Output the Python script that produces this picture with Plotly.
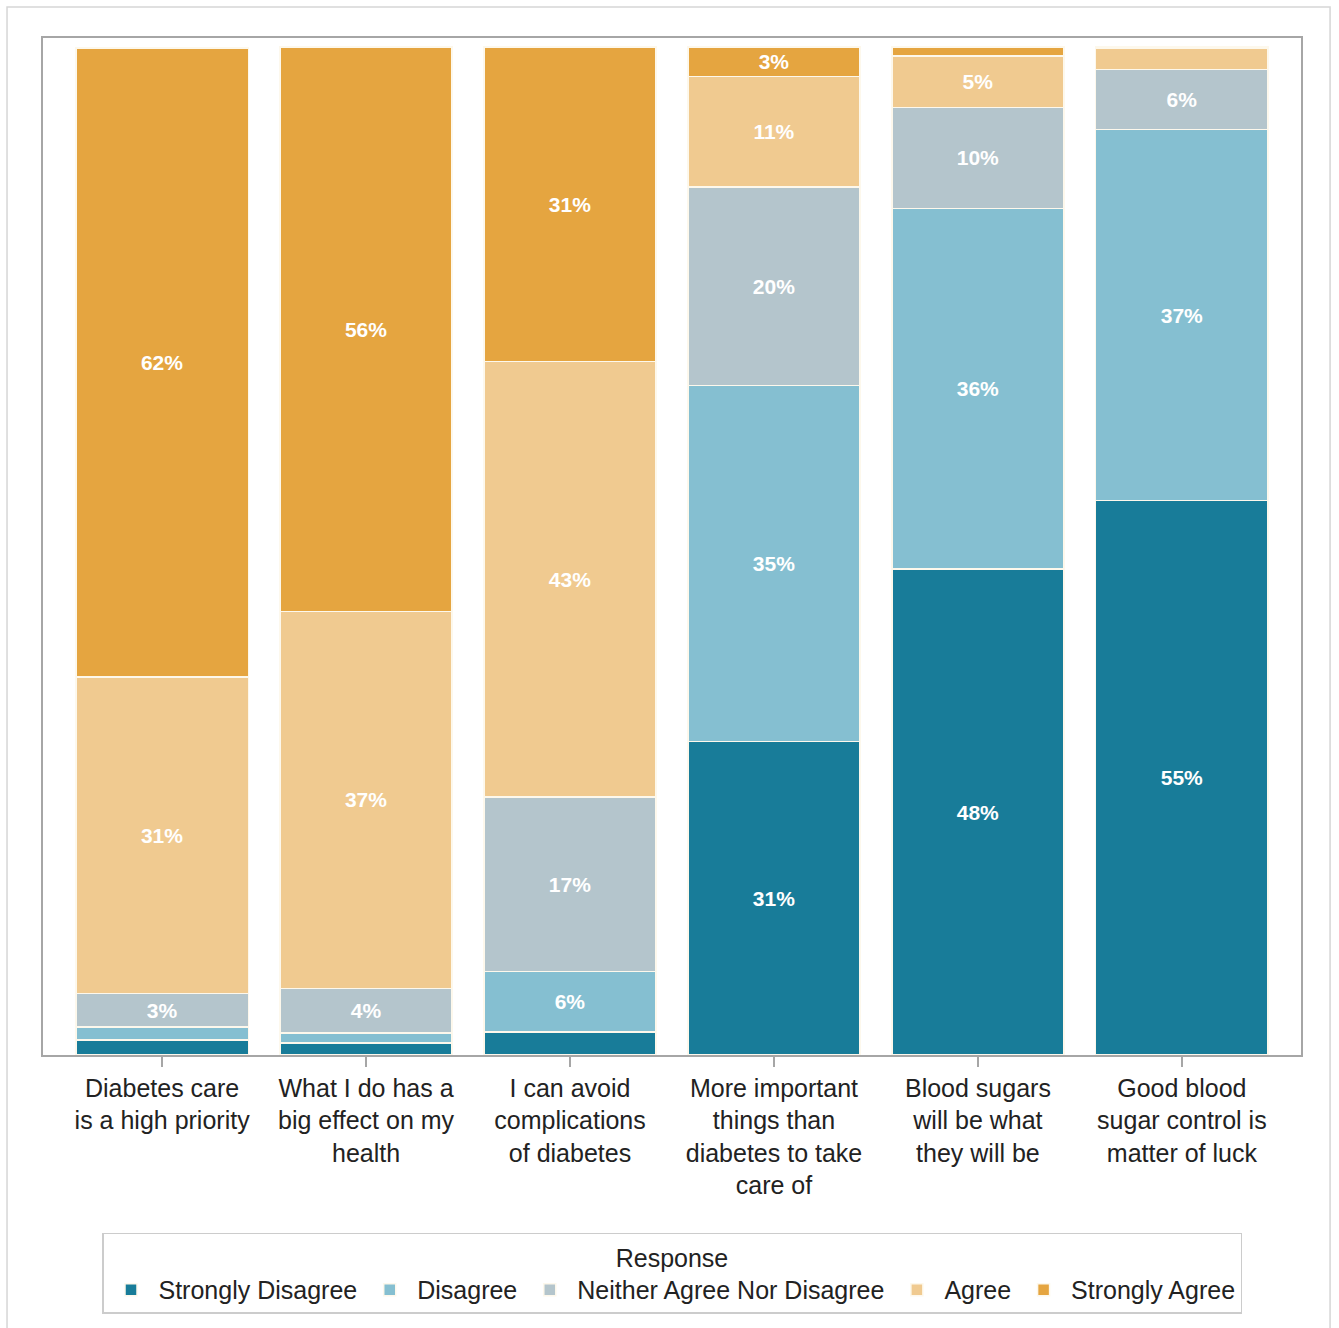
import plotly.graph_objects as go

categories = [
    "Diabetes care<br>is a high priority",
    "What I do has a<br>big effect on my<br>health",
    "I can avoid<br>complications<br>of diabetes",
    "More important<br>things than<br>diabetes to take<br>care of",
    "Blood sugars<br>will be what<br>they will be",
    "Good blood<br>sugar control is<br>matter of luck",
]

responses = ["Strongly Disagree", "Disagree", "Neither Agree Nor Disagree", "Agree", "Strongly Agree"]

strongly_disagree = [1.5, 1.2, 2.3, 31.1, 48.2, 55.0]
disagree = [1.3, 1.0, 6.0, 35.3, 35.8, 36.8]
neither = [3.3, 4.4, 17.3, 19.7, 10.0, 6.0]
agree = [31.4, 37.4, 43.2, 11.0, 5.1, 2.1]
strongly_agree = [62.4, 56.0, 31.2, 2.9, 0.9, 0.1]

series = [strongly_disagree, disagree, neither, agree, strongly_agree]
colors = ["#187c99", "#85bfd1", "#b4c5cc", "#f0ca90", "#e5a540"]

FONT = "Liberation Sans, Arial, sans-serif"

fig = go.Figure()
for name, vals, col in zip(responses, series, colors):
    texts = [f"{round(v)}%" if v >= 2.5 else "" for v in vals]
    fig.add_trace(go.Bar(
        name=name,
        x=categories,
        y=vals,
        text=texts,
        textposition="inside",
        insidetextanchor="middle",
        textangle=0,
        constraintext="none",
        textfont=dict(color="white", size=21, family=FONT, weight="bold"),
        marker=dict(color=col, line=dict(color="#fdf8ec", width=1.5)),
        hoverinfo="x+y+name",
    ))

fig.update_layout(
    barmode="stack",
    bargap=0.155,
    width=1339,
    height=1328,
    margin=dict(l=43, r=38, t=38, b=273),
    paper_bgcolor="white",
    plot_bgcolor="white",
    font=dict(family=FONT, size=25, color="#222222"),
    showlegend=True,
    legend=dict(
        orientation="h",
        x=0.5, xanchor="center",
        y=-0.175, yanchor="top",
        bordercolor="#cccccc",
        borderwidth=1.5,
        font=dict(size=25, family=FONT, color="#222222"),
        title=dict(text="Response", side="top center", font=dict(size=25, family=FONT, color="#222222")),
        traceorder="normal",
        itemwidth=45,
    ),
    xaxis=dict(
        range=[-0.584, 5.584],
        showline=True, mirror=True, linecolor="#a6a6a6", linewidth=1.5,
        ticks="outside", ticklen=10, tickcolor="#a6a6a6", tickwidth=1.5,
        tickfont=dict(size=25, family=FONT, color="#222222"),
        showgrid=False,
    ),
    yaxis=dict(
        range=[0, 100.9],
        showline=True, mirror=True, linecolor="#a6a6a6", linewidth=1.5,
        showticklabels=False, ticks="", showgrid=False, zeroline=False,
    ),
    shapes=[dict(
        type="rect", xref="paper", yref="paper",
        x0=-0.0286, x1=1.0231, y0=-0.28, y1=1.0305,
        line=dict(color="#d6d6d6", width=1.5), fillcolor="rgba(0,0,0,0)", layer="below",
    )],
)

fig.write_html("out.html")
